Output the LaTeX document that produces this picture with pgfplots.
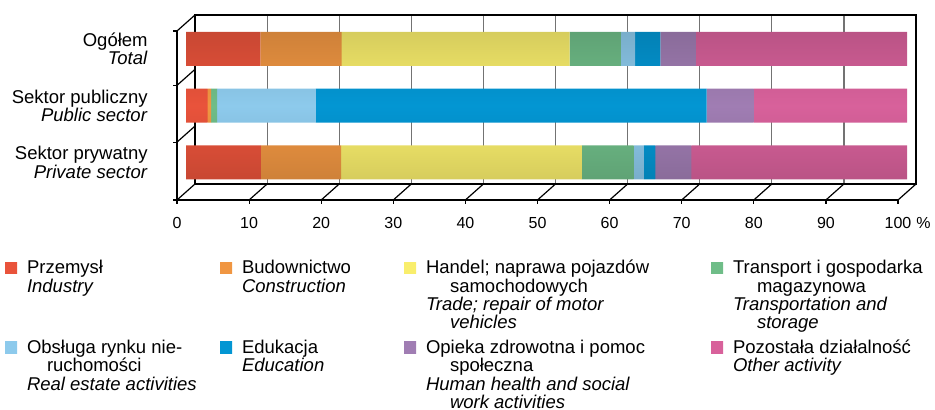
\documentclass[border=0pt]{standalone}
\usepackage{pgfplots}
\pgfplotsset{compat=1.18}
\usepackage{fontspec}
\setmainfont{Liberation Sans}

\definecolor{cInd}{HTML}{E9533B}
\definecolor{cCon}{HTML}{F09642}
\definecolor{cTra}{HTML}{F9EE6C}
\definecolor{cTrn}{HTML}{6FBD88}
\definecolor{cRea}{HTML}{8DCAEC}
\definecolor{cEdu}{HTML}{0396D3}
\definecolor{cHea}{HTML}{A07DB3}
\definecolor{cOth}{HTML}{D8619B}

\newcommand{\lfont}{\fontsize{9.25}{9.2}\selectfont}
\newcommand{\ind}{\hspace*{12pt}}

\pgfplotsset{
  cyl/.style={draw=none, top color=#1!86!black, bottom color=#1!86!black, middle color=#1,
    legend image code/.code={\path[top color=#1, bottom color=#1, middle color=#1] (0pt,0pt) rectangle (6pt,5.75pt); \path (0pt,0pt) -- (9pt,0pt);}},
  frame/.style={width=360.5pt, height=84.5pt, scale only axis, anchor=south west,
    xmin=0, xmax=100, ymin=-0.52, ymax=2.458}
}

\begin{document}
\begin{tikzpicture}
\useasboundingbox (-97.5pt,-113pt) rectangle (370pt,92pt);
% back wall
\begin{axis}[frame, at={(0pt,0pt)},
  xtick={10,20,...,90}, xticklabels={}, ytick=\empty, major tick length=0pt,
  xmajorgrids, grid style={color=black!55, line width=0.6pt},
  axis line style={black, line width=0.6pt}, clip=false]
\pgfplotsinvokeforeach{0,10,...,100}{\draw[black, line width=0.6pt] (axis cs:#1,-0.52) -- ++(-9pt,-8pt);}
\pgfplotsinvokeforeach{0.5,1.5,2.458}{\draw[black, line width=0.6pt] (axis cs:0,#1) -- ++(-9pt,-8pt);}
\end{axis}
% bars
\begin{axis}[frame, at={(-4.5pt,-4pt)},
  xbar stacked, bar width=17pt,
  xtick=\empty, ytick={0,1,2},
  yticklabels={{Sektor prywatny\\\textit{Private sector}},{Sektor publiczny\\\textit{Public sector}},{Ogółem\\\textit{Total}}},
  yticklabel style={align=right, font=\lfont, inner sep=0pt, xshift=-19pt},
  major tick length=0pt, axis line style={draw=none},
  legend columns=4,
  legend style={at={(-0.2510,-0.3787)}, anchor=north west, draw=none, fill=none,
    inner sep=0pt, outer sep=0pt, font=\lfont, column sep=0pt, row sep=27.5pt,
    cells={anchor=base west, inner sep=0pt}}]
\addplot[cyl=cInd] coordinates {(10.4,0) (3.0,1) (10.3,2)};
\addlegendentry{\parbox[t]{94.5pt}{\raggedright Przemysł\\\textit{Industry}}}
\addplot[cyl=cCon] coordinates {(11.1,0) (0.5,1) (11.3,2)};
\addlegendentry{\parbox[t]{79pt}{\raggedright Budownictwo\\\textit{Construction}}}
\addplot[cyl=cTra] coordinates {(33.4,0) (0.0,1) (31.6,2)};
\addlegendentry{\parbox[t]{140.5pt}{\raggedright Handel; naprawa pojazdów\\\ind samochodowych\\\textit{Trade; repair of motor}\\\ind\textit{vehicles}}}
\addplot[cyl=cTrn] coordinates {(7.2,0) (0.8,1) (7.1,2)};
\addlegendentry{\parbox[t]{100pt}{\raggedright Transport i gospodarka\\\ind magazynowa\\\textit{Transportation and}\\\ind\textit{storage}}}
\addplot[cyl=cRea] coordinates {(1.4,0) (13.7,1) (2.0,2)};
\addlegendentry{\parbox[t]{94.5pt}{\raggedright Obsługa rynku nie-\\\hspace*{10pt}ruchomości\\\textit{Real estate activities}}}
\addplot[cyl=cEdu] coordinates {(1.6,0) (54.2,1) (3.5,2)};
\addlegendentry{\parbox[t]{79pt}{\raggedright Edukacja\\\textit{Education}}}
\addplot[cyl=cHea] coordinates {(5.0,0) (6.5,1) (4.9,2)};
\addlegendentry{\parbox[t]{140.5pt}{\raggedright Opieka zdrowotna i pomoc\\\ind społeczna\\\textit{Human health and social}\\\ind\textit{work activities}}}
\addplot[cyl=cOth] coordinates {(29.9,0) (21.3,1) (29.3,2)};
\addlegendentry{\parbox[t]{100pt}{\raggedright Pozostała działalność\\\textit{Other activity}}}
\end{axis}
% front frame
\begin{axis}[frame, at={(-9pt,-8pt)},
  axis lines*=left, axis line style={black, line width=0.6pt},
  xtick={0,10,...,100},
  xticklabels={0,10,20,30,40,50,60,70,80,90,100\rlap{\hspace{2.5pt}\%}},
  ytick={-0.52,0.5,1.5,2.458}, yticklabels={},
  tick align=outside, major tick length=2pt, tick style={black, line width=0.6pt},
  xticklabel style={font=\fontsize{8}{9.6}\selectfont, inner sep=0pt, yshift=-6.5pt}]
\end{axis}
\end{tikzpicture}
\end{document}
